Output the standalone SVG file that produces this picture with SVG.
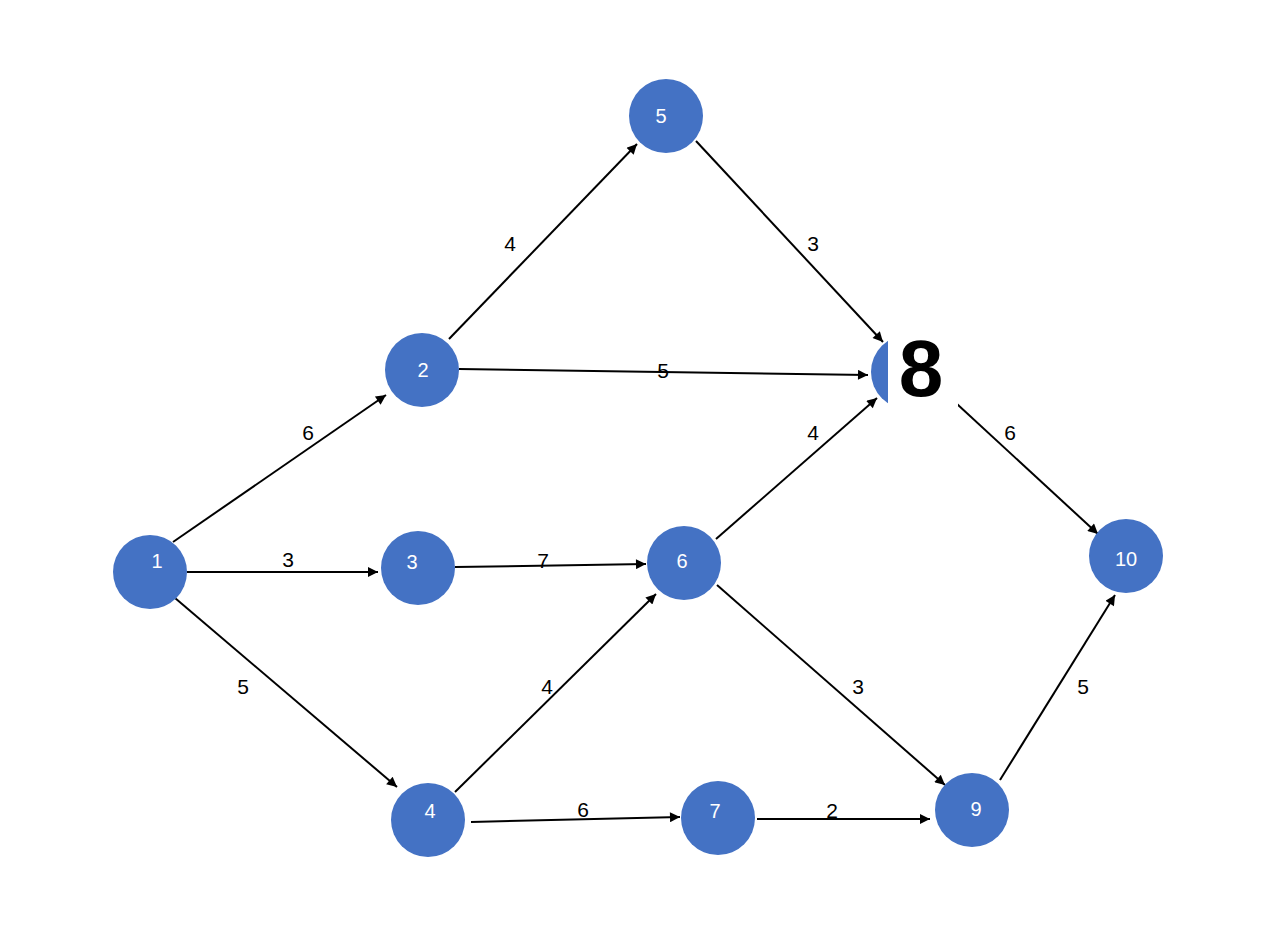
<svg xmlns="http://www.w3.org/2000/svg" width="1280" height="940" viewBox="0 0 1280 940">
<style>
.n{fill:#4472c4}
.t{fill:#fff;font-family:"Liberation Sans",Arial,sans-serif;font-size:20px;text-anchor:middle;dominant-baseline:central}
.e{stroke:#000;stroke-width:2;fill:none;marker-end:url(#a)}
.l{fill:#000;font-family:"Liberation Sans",Arial,sans-serif;font-size:21px;text-anchor:middle;dominant-baseline:central}
</style>
<defs><marker id="a" viewBox="0 0 10 10" refX="10" refY="5" markerWidth="12" markerHeight="10" orient="auto" markerUnits="userSpaceOnUse"><path d="M0,0L10,5L0,10z"/></marker></defs>
<rect width="1280" height="940" fill="#fff"/>
<g id="connectors">
<line class="e" x1="173" y1="542" x2="386" y2="395"/>
<line class="e" x1="187" y1="572" x2="378" y2="572"/>
<line class="e" x1="175" y1="598" x2="397" y2="787"/>
<line class="e" x1="449" y1="339" x2="637" y2="144"/>
<line class="e" x1="459" y1="369" x2="868" y2="375"/>
<line class="e" x1="696" y1="141" x2="883" y2="342"/>
<line class="e" x1="455" y1="567" x2="646" y2="564"/>
<line class="e" x1="455" y1="792" x2="656" y2="594"/>
<line class="e" x1="471" y1="822" x2="680" y2="817"/>
<line class="e" x1="716" y1="539" x2="877" y2="398"/>
<line class="e" x1="717" y1="585" x2="945" y2="785"/>
<line class="e" x1="757" y1="819" x2="930" y2="819"/>
<line class="e" x1="957" y1="404" x2="1098" y2="534"/>
<line class="e" x1="1000" y1="780" x2="1115" y2="595"/>
</g>
<g id="labels">
<text class="l" x="308" y="432">6</text>
<text class="l" x="288" y="559">3</text>
<text class="l" x="243" y="686">5</text>
<text class="l" x="510" y="243">4</text>
<text class="l" x="663" y="370">5</text>
<text class="l" x="813" y="243">3</text>
<text class="l" x="543" y="560">7</text>
<text class="l" x="547" y="686">4</text>
<text class="l" x="583" y="809">6</text>
<text class="l" x="813" y="432">4</text>
<text class="l" x="858" y="686">3</text>
<text class="l" x="832" y="810">2</text>
<text class="l" x="1010" y="432">6</text>
<text class="l" x="1083" y="686">5</text>
</g>
<g id="n1"><circle class="n" cx="150" cy="572" r="37"/><text class="t" x="157" y="561">1</text></g>
<g id="n2"><circle class="n" cx="422" cy="370" r="37"/><text class="t" x="423" y="370">2</text></g>
<g id="n3"><circle class="n" cx="418" cy="568" r="37"/><text class="t" x="412" y="562">3</text></g>
<g id="n4"><circle class="n" cx="428" cy="820" r="37"/><text class="t" x="430" y="811">4</text></g>
<g id="n5"><circle class="n" cx="666" cy="116" r="37"/><text class="t" x="661" y="116">5</text></g>
<g id="n6"><circle class="n" cx="684" cy="563" r="37"/><text class="t" x="682" y="561">6</text></g>
<g id="n7"><circle class="n" cx="718" cy="818" r="37"/><text class="t" x="715" y="811">7</text></g>
<g id="n8"><circle class="n" cx="908" cy="372" r="37"/><rect x="888" y="330" width="70" height="80" fill="#fff"/><text x="921" y="368" font-family="'Liberation Sans',Arial,sans-serif" font-size="80" font-weight="bold" text-anchor="middle" dominant-baseline="central">8</text></g>
<g id="n9"><circle class="n" cx="972" cy="810" r="37"/><text class="t" x="976" y="809">9</text></g>
<g id="n10"><circle class="n" cx="1126" cy="556" r="37"/><text class="t" x="1126" y="559">10</text></g>
</svg>
